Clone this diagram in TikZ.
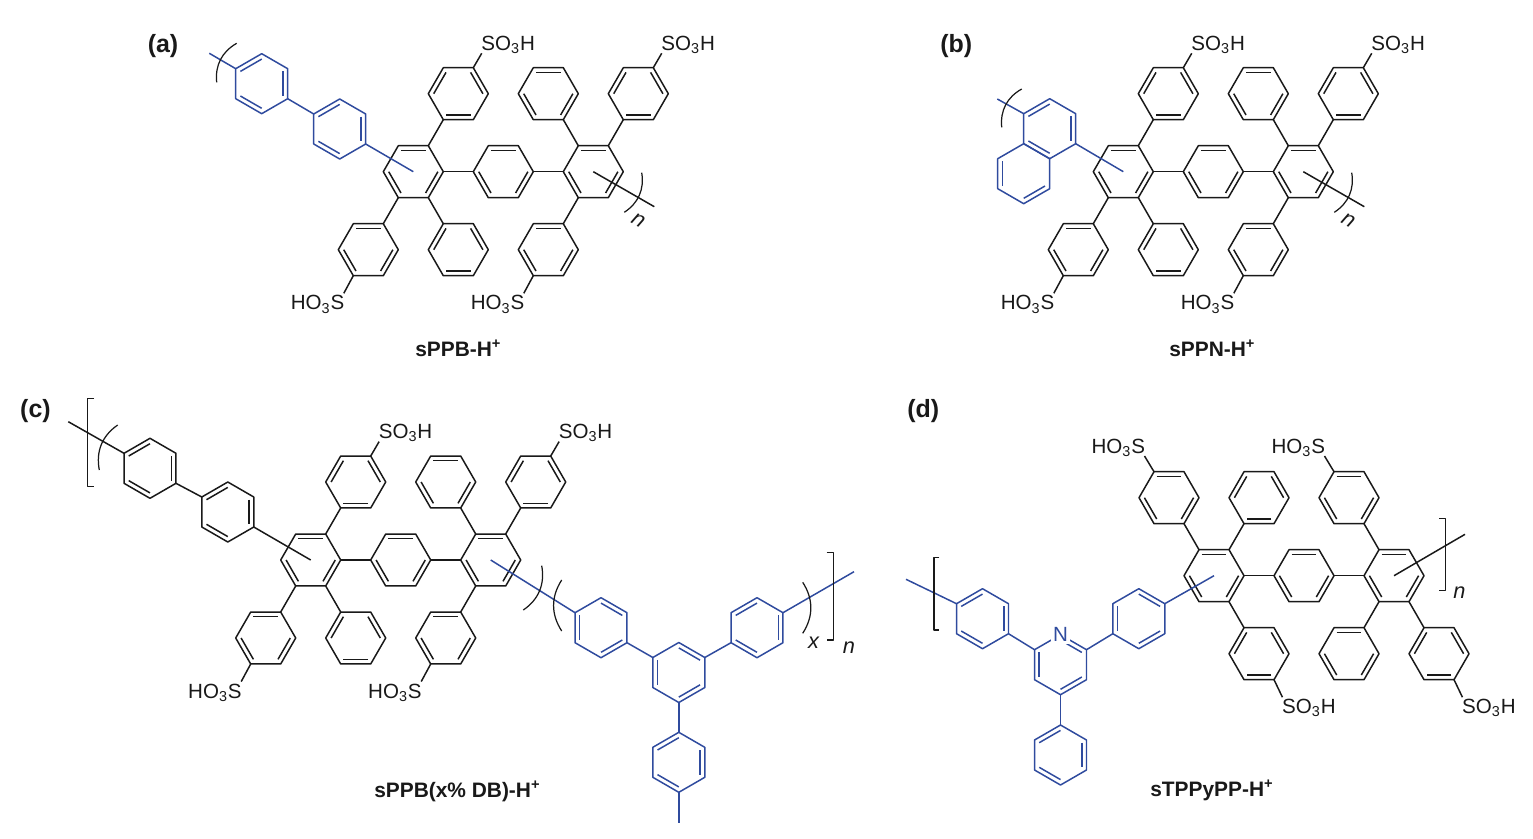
\documentclass[tikz,border=0pt]{standalone}
\usepackage{fontspec}
\setmainfont{Liberation Sans}
\usetikzlibrary{calc}
\definecolor{chainblue}{RGB}{47,75,158}
\definecolor{bondblack}{RGB}{25,25,25}
\tikzset{
	chemlabel/.style={font=\fontsize{11.7}{14}\selectfont,inner sep=0pt},
	partlabel/.style={font=\fontsize{14.2}{16}\selectfont\bfseries,inner sep=0pt,anchor=base west},
	namelabel/.style={font=\fontsize{11.9}{14}\selectfont\bfseries,inner sep=0pt,anchor=base west},
	repeatlabel/.style={font=\fontsize{12.4}{14}\selectfont\itshape,inner sep=0pt},
	arcline/.style={line width=0.7pt,color=bondblack}
}
\newcommand{\hexring}[5]{
	\coordinate (#1) at (#2,#3);
	\foreach \k in {0,...,5} {\coordinate (#1-\k) at ($(#1)+(#4+60*\k:30)$);}
	\draw (#1-0) -- (#1-1) -- (#1-2) -- (#1-3) -- (#1-4) -- (#1-5) -- cycle;
	\foreach \k in {#5} {
		\pgfmathtruncatemacro{\nxt}{mod(\k+1,6)}
		\draw ($(#1)!.82!(#1-\k)$) -- ($(#1)!.82!(#1-\nxt)$);
	}
}
\newcommand{\sulfoR}[4]{
	\node[chemlabel,anchor=base west] (#1) at ($(#2)+(7.4,#3)$) {SO\textsubscript{3}H};
	\coordinate (#1-end) at ($(#2)+(8.4,#4)$);
	\draw (#2) -- (#1-end);
}
\newcommand{\sulfoL}[4]{
	\node[chemlabel,anchor=base east] (#1) at ($(#2)+(-8.3,#3)$) {HO\textsubscript{3}S};
	\coordinate (#1-end) at ($(#2)+(-9.5,#4)$);
	\draw (#2) -- (#1-end);
}
\newcommand{\coreunit}[3]{
	\hexring{#1c}{#2}{#3}{0}{0,2,4}
	\hexring{#1p}{#2+90}{#3}{0}{0,2,4}
	\hexring{#1d}{#2+180}{#3}{0}{0,2,4}
	\hexring{#1s}{#2+45}{#3-78}{0}{1,3,5}
	\hexring{#1f}{#2+135}{#3-78}{0}{0,2,4}
	\hexring{#1t}{#2+225}{#3-78}{0}{1,3,5}
	\hexring{#1u}{#2-45}{#3+78}{0}{0,2,4}
	\hexring{#1g}{#2+45}{#3+78}{0}{1,3,5}
	\hexring{#1v}{#2+135}{#3+78}{0}{0,2,4}
	\foreach \p/\q in {c-0/p-3,p-0/d-3,c-5/s-2,d-4/f-1,d-5/t-2,c-2/u-5,c-1/g-4,d-2/v-5}
		\draw (#1\p) -- (#1\q);
	\sulfoR{#1sa}{#1s-5}{-17.7}{-14.4}
	\sulfoR{#1sb}{#1t-5}{-17.7}{-14.4}
	\sulfoL{#1sc}{#1u-2}{34.3}{17.6}
	\sulfoL{#1sd}{#1v-2}{34.3}{17.6}
}
\begin{document}
\begin{tikzpicture}[x=0.02cm,y=-0.02cm,line width=0.85pt,line join=round,color=bondblack]
	\useasboundingbox (0,0) rectangle (1533,838);
	\coreunit{a}{413.3}{171.7}
	\coreunit{b}{1123.3}{171.7}
	\coreunit{c}{310.7}{560}

	% panel a
	\begin{scope}[color=chainblue]
		\hexring{aone}{261.7}{83.7}{30}{1,3,5}
		\hexring{atwo}{339.7}{129}{30}{1,3,5}
		\coordinate (aopen) at (209.3,53.3);
		\draw (aopen) -- (aone-3);
		\draw (aone-0) -- (atwo-3);
		\draw (atwo-0) -- (ac);
	\end{scope}
	\coordinate (aclose) at (654.3,206.7);
	\draw (ad) -- (aclose);
	\draw[arcline] (236.7,43.3) to[bend right=33] (216.7,82.3);
	\draw[arcline] (641.7,172.7) to[bend left=33] (624.3,212.3);
	\node[repeatlabel,rotate=-30] (an) at (638.3,220) {n};
	\node[partlabel] (apart) at (147,53) {(a)};
	\node[namelabel] (aname) at (414.5,356) {sPPB-H\textsuperscript{+}};

	% panel b
	\begin{scope}[color=chainblue]
		\hexring{bone}{1049.7}{128.7}{30}{1,3,5}
		\hexring{btwo}{1023.7}{173.7}{30}{0,2}
		\coordinate (bopen) at (997.3,99);
		\draw (bopen) -- (bone-3);
		\draw (bone-0) -- (bc);
	\end{scope}
	\coordinate (bclose) at (1364.3,206.7);
	\draw (bd) -- (bclose);
	\draw[arcline] (1021.7,89) to[bend right=33] (1001.7,127.3);
	\draw[arcline] (1351.7,172.7) to[bend left=33] (1334.3,212.3);
	\node[repeatlabel,rotate=-30] (bn) at (1348.3,220) {n};
	\node[partlabel] (bpart) at (939.5,53) {(b)};
	\node[namelabel] (bname) at (1168.5,356) {sPPN-H\textsuperscript{+}};

	% panel c
	\hexring{cone}{150}{468.3}{30}{1,3,5}
	\hexring{ctwo}{227.8}{512}{30}{1,3,5}
	\coordinate (copen) at (68.3,421.7);
	\draw (copen) -- (cone-3);
	\draw (cone-0) -- (ctwo-3);
	\draw (ctwo-0) -- (cc);
	\begin{scope}[color=chainblue]
		\hexring{cleft}{601}{627.7}{30}{0,2,4}
		\hexring{cmid}{678.8}{672.5}{30}{0,2,4}
		\hexring{cright}{757}{627.7}{30}{1,3,5}
		\hexring{clow}{678.8}{762.3}{30}{1,3,5}
		\coordinate (cclose) at (854,571.7);
		\coordinate (cend) at (678.8,823.3);
		\draw (cd) -- (cleft-3);
		\draw (cleft-0) -- (cmid-3);
		\draw (cmid-5) -- (cright-2);
		\draw (cmid-1) -- (clow-4);
		\draw (cright-5) -- (cclose);
		\draw (clow-1) -- (cend);
	\end{scope}
	\draw[arcline] (94,398.3) -- (87.7,398.3) -- (87.7,486.7) -- (94,486.7);
	\draw[arcline] (826.7,552.7) -- (833.3,552.7) -- (833.3,640) -- (826.7,640);
	\draw[arcline] (117.7,425) to[bend right=33] (99.3,470);
	\draw[arcline] (541.7,565.7) to[bend left=33] (523.3,610);
	\draw[arcline] (561.7,580) to[bend right=33] (561.7,631);
	\draw[arcline] (802.7,582.3) to[bend left=33] (802.7,633.3);
	\node[repeatlabel] (cx) at (813.5,642.5) {x};
	\node[repeatlabel] (cn) at (849,647.5) {n};
	\node[partlabel] (cpart) at (19.5,417) {(c)};
	\node[namelabel] (cname) at (373.5,797) {sPPB(x\% DB)-H\textsuperscript{+}};

	% panel d
	\hexring{dc}{1214}{575.7}{0}{0,2,4}
	\hexring{dp}{1304}{575.7}{0}{0,2,4}
	\hexring{dd}{1394}{575.7}{0}{0,2,4}
	\hexring{ds}{1169}{497.7}{0}{0,2,4}
	\hexring{df}{1259}{497.7}{0}{1,3,5}
	\hexring{dt}{1349}{497.7}{0}{0,2,4}
	\hexring{du}{1259}{653.7}{0}{1,3,5}
	\hexring{dg}{1349}{653.7}{0}{0,2,4}
	\hexring{dv}{1439}{653.7}{0}{1,3,5}
	\foreach \p/\q in {dc-0/dp-3,dp-0/dd-3,dc-4/ds-1,dc-5/df-2,dd-4/dt-1,dc-1/du-4,dd-2/dg-5,dd-1/dv-4}
		\draw (\p) -- (\q);
	\sulfoL{dsa}{ds-4}{-18.4}{-15.7}
	\sulfoL{dsb}{dt-4}{-18.4}{-15.7}
	\sulfoR{dsc}{du-1}{34}{17.5}
	\sulfoR{dsd}{dv-1}{34}{17.5}
	\begin{scope}[color=chainblue]
		\hexring{dleft}{982.5}{618.7}{30}{1,3,5}
		\hexring{dpy}{1060.5}{664.7}{30}{0,2,4}
		\hexring{dright}{1138.8}{618.7}{30}{0,2,4}
		\hexring{dlow}{1060.5}{755}{30}{1,3,5}
		\node[chemlabel,fill=white,inner sep=1pt] (dn) at (dpy-4) {N};
		\coordinate (dopen) at (906,579.3);
		\draw (dopen) -- (dleft-3);
		\draw (dleft-0) -- (dpy-3);
		\draw (dpy-5) -- (dright-2);
		\draw (dpy-1) -- (dlow-4);
		\draw (dright-5) -- (dc);
	\end{scope}
	\coordinate (dclose) at (1465,534.3);
	\draw (dd) -- (dclose);
	\draw[arcline] (939.3,557.7) -- (934,557.7) -- (934,630) -- (939.3,630);
	\draw[arcline] (1439.3,518.3) -- (1445.7,518.3) -- (1445.7,590.7) -- (1439.3,590.7);
	\node[repeatlabel] (dnn) at (1459.3,593) {n};
	\node[partlabel] (dpart) at (906.5,417) {(d)};
	\node[namelabel] (dname) at (1149.5,796) {sTPPyPP-H\textsuperscript{+}};
\end{tikzpicture}
\end{document}
